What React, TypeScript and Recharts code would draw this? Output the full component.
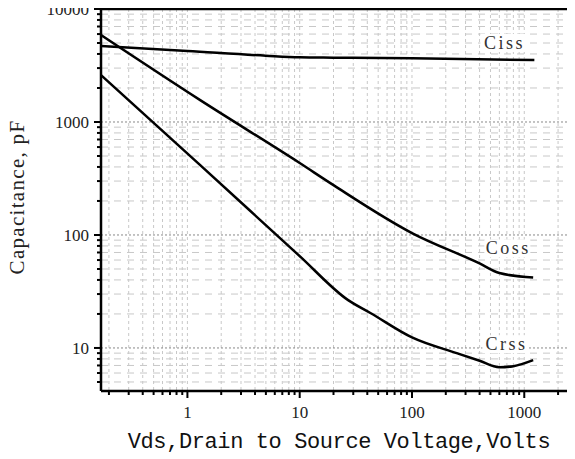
import React from "react";
import {
    LineChart,
    Line,
    XAxis,
    YAxis,
    CartesianGrid,
    ReferenceLine,
    ReferenceDot
} from "recharts";

// values (log-log)
const cissVds = [0.17, 1, 5, 10, 20, 100, 1230];
const cissPf = [4700, 4250, 3860, 3740, 3710, 3660, 3530];

const cossVds = [0.17, 1.3, 10, 20, 100, 400, 600, 1200];
const cossPf = [5880, 1560, 433, 276, 104, 56, 46, 42];

const crssVds = [0.17, 1.3, 10, 27, 43, 100, 250, 400, 600, 800, 1200];
const crssPf = [2600, 415, 65, 26.5, 20.3, 12.4, 9.0, 7.7, 6.75, 6.9, 7.8];

const xMajor = [1, 10, 100, 1000];
const xTicks = [0.2, 0.3, 0.4, 0.5, 0.6, 0.7, 0.8, 0.9, 1, 2, 3, 4, 5, 6, 7, 8, 9, 10,
    20, 30, 40, 50, 60, 70, 80, 90, 100, 200, 300, 400, 500, 600, 700, 800, 900, 1000, 2000];

const yMajor = [10, 100, 1000, 10000];
const yMinor = [5, 6, 7, 8, 9, 20, 30, 40, 50, 60, 70, 80, 90, 200, 300, 400, 500, 600, 700, 800, 900,
    2000, 3000, 4000, 5000, 6000, 7000, 8000, 9000];
const yTicks = [...yMinor, ...yMajor].sort((a, b) => a - b);

const curveLabels = [
    {text: "Ciss", vds: 652, pf: 5000},
    {text: "Coss", vds: 707, pf: 76},
    {text: "Crss", vds: 679, pf: 10.8}
];

const toRows = (xs: number[], ys: number[]) => xs.map((v, i) => ({vds: v, pf: ys[i]}));
const ciss = toRows(cissVds, cissPf);
const coss = toRows(cossVds, cossPf);
const crss = toRows(crssVds, crssPf);

const XTick = (props: any) => {
    const {x, y, payload} = props;
    const major = xMajor.includes(payload.value);
    return <g>
        <line x1={x} x2={x} y1={y} y2={y + (major ? 7 : 4)} stroke="#000" strokeWidth={2}/>
        {major && <text x={x} y={y + 27} textAnchor="middle" fontFamily="Liberation Serif" fontSize={17}
                        fill="#222">{payload.value}</text>}
    </g>
}

const YTick = (props: any) => {
    const {x, y, payload} = props;
    const major = yMajor.includes(payload.value);
    return <g>
        <line x1={x} x2={x - (major ? 7 : 4)} y1={y} y2={y} stroke="#000" strokeWidth={2}/>
        {major && <text x={x - 12} y={y + 6} textAnchor="end" fontFamily="Liberation Serif" fontSize={17}
                        fill="#222">{payload.value}</text>}
    </g>
}

const CurveLabel = ({viewBox, text}: any) => {
    const cx = viewBox.x + viewBox.width / 2;
    const cy = viewBox.y + viewBox.height / 2;
    return <g>
        <rect x={cx - 23} y={cy - 9} width={46} height={18} fill="#fff"/>
        <text x={cx + 1} y={cy + 6} textAnchor="middle" fontFamily="Liberation Serif" fontSize={18}
              letterSpacing={2.5} fill="#333">{text}</text>
    </g>
}

export default function App() {
    return <div style={{marginLeft: -8, marginTop: -10, height: 461}}>
        <LineChart width={575} height={461} margin={{top: 11, right: 0, bottom: 0, left: 0}}>
            <CartesianGrid horizontal={false} verticalValues={xTicks} stroke="#c8c8c8" strokeDasharray="3 3"/>
            <CartesianGrid vertical={false} horizontalValues={yMinor} stroke="#c8c8c8" strokeDasharray="7 6"/>
            <CartesianGrid vertical={false} horizontalValues={[10, 100, 1000]} stroke="#888"
                           strokeDasharray="2 2"/>
            <XAxis dataKey="vds" type="number" scale="log" domain={[0.17, 2830]} allowDataOverflow
                   ticks={xTicks} interval={0} height={68} tickSize={0} tickMargin={0} tick={<XTick/>}
                   axisLine={{stroke: "#000", strokeWidth: 2.5}}
                   label={{
                       content: () => <text x={339} y={450} textAnchor="middle" fontFamily="Liberation Mono"
                                            fontSize={22} letterSpacing={-0.4} fill="#111">
                           Vds,Drain to Source Voltage,Volts</text>
                   }}/>
            <YAxis dataKey="pf" type="number" scale="log" domain={[4.16, 10000]} allowDataOverflow
                   ticks={yTicks} interval={0} width={101} tickSize={0} tickMargin={0} tick={<YTick/>}
                   axisLine={{stroke: "#000", strokeWidth: 2.5}}
                   label={{
                       content: () => <text x={24} y={199} transform="rotate(-90 24 199)" textAnchor="middle"
                                            fontFamily="Liberation Serif" fontSize={21} letterSpacing={1.3}
                                            fill="#222">Capacitance, pF</text>
                   }}/>
            <ReferenceLine y={10000} stroke="#000" strokeWidth={2.5} ifOverflow="visible"/>
            <Line data={ciss} dataKey="pf" type="monotone" stroke="#000" strokeWidth={2.5} dot={false}
                  isAnimationActive={false}/>
            <Line data={coss} dataKey="pf" type="monotone" stroke="#000" strokeWidth={2.5} dot={false}
                  isAnimationActive={false}/>
            <Line data={crss} dataKey="pf" type="monotone" stroke="#000" strokeWidth={2.5} dot={false}
                  isAnimationActive={false}/>
            {curveLabels.map(l =>
                <ReferenceDot key={l.text} x={l.vds} y={l.pf} r={1} fill="none" stroke="none"
                              label={{content: (p: any) => <CurveLabel {...p} text={l.text}/>}}/>
            )}
        </LineChart>
    </div>
}
